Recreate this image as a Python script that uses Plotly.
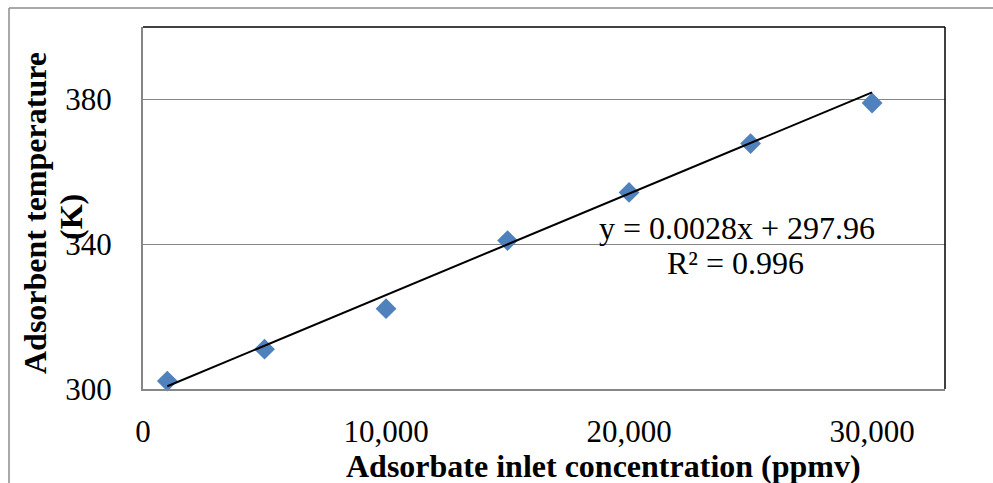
import plotly.graph_objects as go

# Measured adsorbent temperature against adsorbate inlet concentration
concentration_ppmv = [1000, 5000, 10000, 15000, 20000, 25000, 30000]
temperature_k = [302.2, 311.0, 322.2, 341.0, 354.3, 367.8, 379.0]

# Linear trendline coefficients
slope = 0.0028
intercept = 297.96
r_squared = 0.996

x_ticks = [0, 10000, 20000, 30000]
y_ticks = [300, 340, 380]

trend_x = [min(concentration_ppmv), max(concentration_ppmv)]
trend_y = [slope * v + intercept for v in trend_x]

SERIF = "Liberation Serif, Times New Roman, serif"
AXIS_GRAY = "#868686"

# plot area in pixels: left 143, right 945, top 27, bottom 389
PL, PR, PT, PB = 143, 945, 27, 389


def px(x):
    return (x - PL) / (PR - PL)


def py(y):
    return (PB - y) / (PB - PT)


fig = go.Figure()

fig.add_trace(go.Scatter(
    x=concentration_ppmv, y=temperature_k, mode="markers",
    marker=dict(symbol="diamond", size=16, color="#4F81BD", line=dict(width=0)),
    showlegend=False, cliponaxis=False,
))
fig.add_trace(go.Scatter(
    x=trend_x, y=trend_y, mode="lines",
    line=dict(color="black", width=2),
    showlegend=False, cliponaxis=False,
))

# Plot-area border (top and right) plus the outer chart frame
shapes = [
    dict(type="line", xref="paper", yref="paper", x0=0, x1=1, y0=1, y1=1,
         line=dict(color="black", width=1.5)),
    dict(type="line", xref="paper", yref="paper", x0=1, x1=1, y0=0, y1=1,
         line=dict(color="black", width=1.5)),
    dict(type="line", xref="paper", yref="paper", x0=px(9), x1=px(1000), y0=py(8), y1=py(8),
         line=dict(color="#8c8c8c", width=1.5)),
    dict(type="line", xref="paper", yref="paper", x0=px(9), x1=px(9), y0=py(8), y1=py(490),
         line=dict(color="#8c8c8c", width=1.5)),
]


def label(text, x, y, size, angle=0):
    return dict(text=text, x=px(x), y=py(y), xref="paper", yref="paper",
                xanchor="center", yanchor="middle", showarrow=False,
                textangle=angle, font=dict(family=SERIF, size=size, color="black"))


annotations = [
    label(f"y = {slope}x + {intercept}", 737, 228, 32),
    label(f"R² = {r_squared}", 735, 263, 32),
    label("<b>Adsorbate inlet concentration (ppmv)</b>", 603, 466, 32),
    label("<b>Adsorbent temperature</b>", 35, 213, 32, -90),
    label("<b>(K)</b>", 71, 217, 32, -90),
]

fig.update_layout(
    width=993, height=483,
    margin=dict(l=PL, r=993 - PR, t=PT, b=483 - PB),
    paper_bgcolor="white", plot_bgcolor="white",
    shapes=shapes, annotations=annotations,
    font=dict(family=SERIF, color="black"),
    xaxis=dict(
        range=[0, 33000], tickvals=x_ticks, tickformat=",",
        showgrid=False, zeroline=False,
        showline=True, linecolor=AXIS_GRAY, linewidth=2,
        ticks="", ticklabelstandoff=14,
        tickfont=dict(family=SERIF, size=31, color="black"),
    ),
    yaxis=dict(
        range=[300, 400], tickvals=y_ticks,
        showgrid=True, gridcolor=AXIS_GRAY, gridwidth=1.2,
        zeroline=False,
        showline=True, linecolor=AXIS_GRAY, linewidth=2,
        ticks="", ticklabelstandoff=23,
        tickfont=dict(family=SERIF, size=31, color="black"),
    ),
)

fig.write_html("out.html")
